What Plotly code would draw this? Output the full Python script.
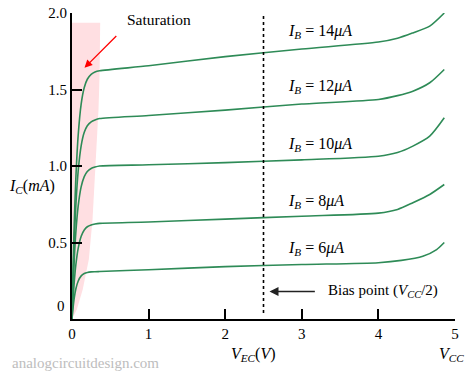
import plotly.graph_objects as go

# ---- data ----
x_rise = [0, 0.01, 0.03, 0.05, 0.08, 0.12, 0.16, 0.2, 0.25, 0.3, 0.36]
x_flat = [1, 2, 3, 4, 4.25, 4.45, 4.67, 4.86]

ib6_rise = [0, 0.056, 0.140, 0.196, 0.247, 0.282, 0.297, 0.304, 0.308, 0.309, 0.31]
ib6_flat = [0.322, 0.342, 0.356, 0.368, 0.383, 0.41, 0.454, 0.50]
x6_flat = [1, 2, 3, 4, 4.3, 4.58, 4.76, 4.86]

ib8_rise = [0, 0.096, 0.246, 0.353, 0.46, 0.541, 0.582, 0.603, 0.615, 0.621, 0.625]
ib8_flat = [0.634, 0.653, 0.672, 0.692, 0.716, 0.76, 0.814, 0.879]

ib10_rise = [0, 0.154, 0.393, 0.565, 0.736, 0.865, 0.931, 0.964, 0.984, 0.993, 1.0]
ib10_flat = [1.008, 1.022, 1.04, 1.064, 1.088, 1.13, 1.195, 1.315]

ib12_rise = [0, 0.202, 0.515, 0.74, 0.964, 1.133, 1.22, 1.263, 1.289, 1.301, 1.31]
ib12_flat = [1.33, 1.365, 1.405, 1.435, 1.46, 1.489, 1.544, 1.631]

ib14_rise = [0, 0.25, 0.639, 0.918, 1.196, 1.406, 1.513, 1.567, 1.599, 1.614, 1.622]
ib14_flat = [1.655, 1.715, 1.765, 1.81, 1.835, 1.87, 1.914, 2.0]

curve_labels = ["6", "8", "10", "12", "14"]
label_y = [0.459, 0.770, 1.14, 1.518, 1.881]
label_x = 2.80

sat_edge_x = [0, 0.368, 0.36, 0.346, 0.307, 0.268, 0.22, 0.14, 0.063, 0.01, 0]
sat_edge_y = [1.936, 1.936, 1.6, 1.37, 1.01, 0.65, 0.39, 0.193, 0.062, 0, 0]

bias_x = 2.5
x_ticks = [0, 1, 2, 3, 4, 5]
x_ticktext = ["0", "1", "2", "3", "4", "5"]
y_ticks = [0, 0.5, 1.0, 1.5, 2.0]
y_ticktext = ["", "0.5", "1.0", "1.5", "2.0"]

GREEN = "#2e8b57"
SERIF = "Liberation Serif, Times New Roman, serif"

fig = go.Figure()

# saturation region
fig.add_trace(go.Scatter(x=sat_edge_x, y=sat_edge_y, fill="toself",
                         fillcolor="#ffdfe2", line=dict(width=0),
                         mode="lines", hoverinfo="skip"))

curves = [
    (x_rise + x6_flat, ib6_rise + ib6_flat),
    (x_rise + x_flat, ib8_rise + ib8_flat),
    (x_rise + x_flat, ib10_rise + ib10_flat),
    (x_rise + x_flat, ib12_rise + ib12_flat),
    (x_rise + x_flat, ib14_rise + ib14_flat),
]
for xs, ys in curves:
    fig.add_trace(go.Scatter(x=xs, y=ys, mode="lines",
                             line=dict(color=GREEN, width=1.6, shape="spline", smoothing=0.7),
                             hoverinfo="skip"))

# bias dotted line
fig.add_trace(go.Scatter(x=[bias_x, bias_x], y=[0.04, 2.0], mode="lines",
                         line=dict(color="black", width=1.6, dash="dot"), hoverinfo="skip"))

ann = []
for lab, yy in zip(curve_labels, label_y):
    ann.append(dict(x=label_x, y=yy, xref="x", yref="y", xanchor="left", yanchor="middle",
                    text=f"<i>I</i><sub><i>B</i></sub> = {lab}<i>μA</i>", showarrow=False,
                    font=dict(family=SERIF, size=16, color="black")))

ann.append(dict(x=2.578, y=0.18, ax=3.19, ay=0.18, xref="x", yref="y", axref="x", ayref="y",
                text="", showarrow=True, arrowhead=2, arrowsize=1.2, arrowwidth=1.5, arrowcolor="#222"))
ann.append(dict(x=3.31, y=0.18, xref="x", yref="y", xanchor="left", yanchor="middle",
                text="Bias point (<i>V</i><sub><i>CC</i></sub>/2)", showarrow=False,
                font=dict(family=SERIF, size=15, color="black")))

ann.append(dict(x=0.163, y=1.642, ax=0.598, ay=1.859, xref="x", yref="y", axref="x", ayref="y",
                text="", showarrow=True, arrowhead=2, arrowsize=1.2, arrowwidth=1.3, arrowcolor="red"))
ann.append(dict(x=0.69, y=1.958, xref="x", yref="y", xanchor="left", yanchor="middle",
                text="Saturation", showarrow=False,
                font=dict(family=SERIF, size=15.5, color="black")))

ann.append(dict(x=-0.039, y=0.433, xref="paper", yref="paper", xanchor="right", yanchor="middle",
                text="<i>I</i><sub><i>C</i></sub>(<i>mA</i>)", showarrow=False,
                font=dict(family=SERIF, size=16, color="black")))
ann.append(dict(x=0.4726, y=-0.116, xref="paper", yref="paper", xanchor="center", yanchor="middle",
                text="<i>V</i><sub><i>EC</i></sub>(<i>V</i>)", showarrow=False,
                font=dict(family=SERIF, size=16, color="black")))
ann.append(dict(x=0.99, y=-0.116, xref="paper", yref="paper", xanchor="center", yanchor="middle",
                text="<i>V</i><sub><i>CC</i></sub>", showarrow=False,
                font=dict(family=SERIF, size=16, color="black")))
ann.append(dict(x=-0.013, y=0.044, xref="paper", yref="paper", xanchor="right", yanchor="middle",
                text="0", showarrow=False,
                font=dict(family=SERIF, size=15, color="black")))
ann.append(dict(x=-0.162, y=-0.145, xref="paper", yref="paper", xanchor="left", yanchor="middle",
                text="analogcircuitdesign.com", showarrow=False,
                font=dict(family=SERIF, size=15, color="#bdbdbd")))

fig.update_layout(
    width=474, height=374,
    margin=dict(l=72, r=19, t=13, b=55, autoexpand=False),
    paper_bgcolor="white", plot_bgcolor="white",
    showlegend=False,
    annotations=ann,
    xaxis=dict(range=[0, 5], tickvals=x_ticks, ticktext=x_ticktext, ticks="inside",
               ticklen=10, tickwidth=2, tickcolor="black", showline=True, linewidth=2,
               linecolor="black", showgrid=False, zeroline=False, automargin=False,
               tickfont=dict(family=SERIF, size=15, color="black")),
    yaxis=dict(range=[0, 2.0], tickvals=y_ticks, ticktext=y_ticktext, ticks="inside",
               ticklen=10, tickwidth=2, tickcolor="black", showline=True, linewidth=2,
               linecolor="black", showgrid=False, zeroline=False, automargin=False,
               tickfont=dict(family=SERIF, size=15, color="black")),
)

fig.write_html("out.html", config={"displayModeBar": False},
               post_script="document.body.style.margin='0';")
